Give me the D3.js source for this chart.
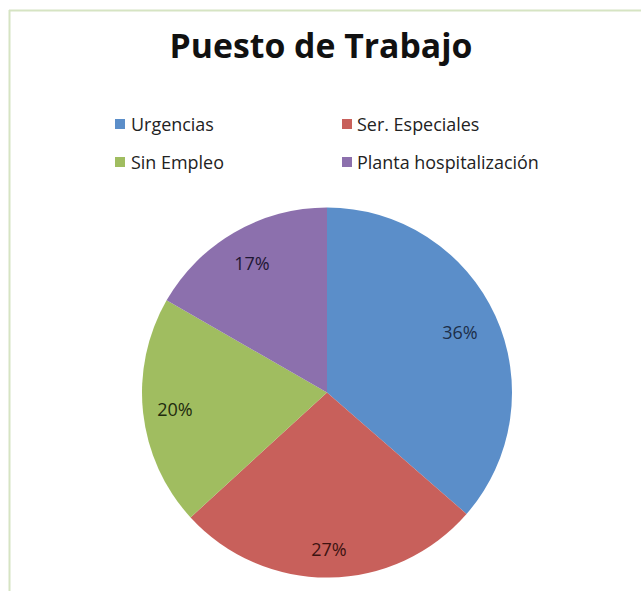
<!DOCTYPE html>
<html>
<head>
<meta charset="utf-8">
<script src="https://cdn.jsdelivr.net/npm/d3@7"></script>
<style>
  html, body { margin: 0; padding: 0; background: #ffffff; }
  svg { display: block; }
</style>
</head>
<body>
<svg id="chart" width="641" height="591"></svg>
<script>
const title = "Puesto de Trabajo";
const categories = ["Urgencias", "Ser. Especiales", "Sin Empleo", "Planta hospitalización"];
const values = [36.4, 26.8, 20.1, 16.7];
const labels = ["36%", "27%", "20%", "17%"];
const colors = ["#5b8ec9", "#c8605b", "#a0bd60", "#8c70ad"];
const labelColors = ["#1d2f4a", "#3d1311", "#1f2b0e", "#1f1733"];

const svg = d3.select("#chart");
const W = 641, H = 591;
svg.append("rect").attr("width", W).attr("height", H).attr("fill", "#ffffff");

// frame (top and left edges visible)
svg.append("line").attr("x1", 9).attr("x2", W).attr("y1", 10.5).attr("y2", 10.5)
  .attr("stroke", "#d6e4c3").attr("stroke-width", 2);
svg.append("line").attr("x1", 9.5).attr("x2", 9.5).attr("y1", 10).attr("y2", H)
  .attr("stroke", "#d6e4c3").attr("stroke-width", 2);

// title
const t = svg.append("text")
  .attr("x", 321).attr("y", 58)
  .attr("text-anchor", "middle")
  .attr("font-family", "'Open Sans', sans-serif")
  .attr("font-weight", "bold")
  .attr("font-size", 32)
  .attr("fill", "#111")
  .text(title);
const tw = t.node().getComputedTextLength();
t.attr("font-size", 32 * 303 / tw);

// legend
const legX = [115, 342], legY = [119, 157];
const textX = [131, 357], textY = [131, 169];
const leg = svg.append("g");
categories.forEach((c, i) => {
  const col = i % 2, row = Math.floor(i / 2);
  leg.append("rect").attr("x", legX[col]).attr("y", legY[row])
    .attr("width", 10).attr("height", 10).attr("fill", colors[i]);
  leg.append("text").attr("class", "lt").attr("x", textX[col]).attr("y", textY[row])
    .attr("font-family", "'Open Sans', sans-serif").attr("font-size", 16)
    .attr("fill", "#222").text(c);
});
const lt = leg.selectAll("text.lt").nodes()[3];
const lw = lt.getComputedTextLength();
leg.selectAll("text.lt").attr("font-size", 16 * 182 / lw);

// pie
const cx = 327, cy = 392.5, R = 185;
const labelR = [146, 157, 153, 150];
const pie = d3.pie().sort(null).value(d => d)(values);
const arc = d3.arc().innerRadius(0).outerRadius(R);
const g = svg.append("g").attr("transform", `translate(${cx},${cy})`);
g.selectAll("path").data(pie).join("path")
  .attr("d", arc).attr("fill", (d, i) => colors[i]);
g.selectAll("text").data(pie).join("text")
  .attr("transform", (d, i) => `translate(${d3.arc().innerRadius(labelR[i]).outerRadius(labelR[i]).centroid(d)})`)
  .attr("text-anchor", "middle")
  .attr("dominant-baseline", "central")
  .attr("font-family", "'Open Sans', sans-serif")
  .attr("font-size", 18)
  .attr("fill", (d, i) => labelColors[i])
  .text((d, i) => labels[i]);
</script>
</body>
</html>
